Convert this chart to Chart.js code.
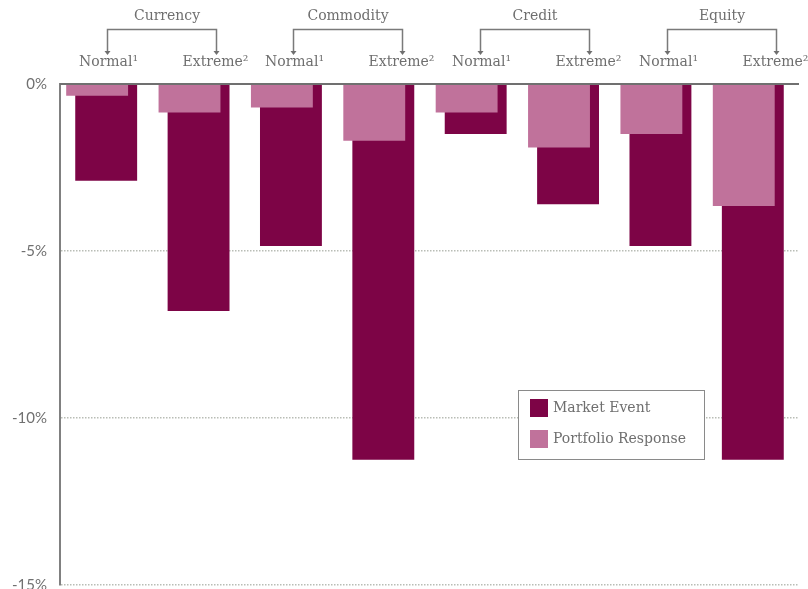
<!DOCTYPE html>
<html>
<head>
<meta charset="utf-8">
<script src="https://cdn.jsdelivr.net/npm/chart.js@4.4.1/dist/chart.umd.min.js"></script>
<style>
html,body{margin:0;padding:0;background:#fff;}
#wrap{width:808px;height:589px;position:relative;}
</style>
</head>
<body>
<div id="wrap"><canvas id="c" width="808" height="589"></canvas></div>
<script>
const groups = ['Currency', 'Commodity', 'Credit', 'Equity'];
const subLabels = ['Normal\u00B9', 'Extreme\u00B2'];
const categories = ['Currency Normal', 'Currency Extreme', 'Commodity Normal', 'Commodity Extreme', 'Credit Normal', 'Credit Extreme', 'Equity Normal', 'Equity Extreme'];
const marketEvent = [-2.9, -6.8, -4.85, -11.25, -1.5, -3.6, -4.85, -11.25];
const portfolioResponse = [-0.35, -0.85, -0.7, -1.7, -0.85, -1.9, -1.5, -3.65];
const yTicks = [0, -5, -10, -15];

const DARK = '#7d0446';
const PINK = '#c0729b';
const GREY = '#6f6f6f';
const SERIF = '"DejaVu Serif", serif';

const overlapShift = {
  id: 'overlapShift',
  beforeDatasetDraw(chart, args) {
    if (args.index === 1) {
      const w = chart.scales.x.getPixelForValue(1) - chart.scales.x.getPixelForValue(0);
      chart.ctx.save();
      chart.ctx.translate(-w * 0.098, 0);
    }
  },
  afterDatasetDraw(chart, args) {
    if (args.index === 1) chart.ctx.restore();
  }
};

const decorations = {
  id: 'decorations',
  afterDatasetsDraw(chart) {
    const ctx = chart.ctx;
    const area = chart.chartArea;
    const y = chart.scales.y;
    // zero line
    const y0 = y.getPixelForValue(0);
    ctx.save();
    ctx.strokeStyle = '#707070';
    ctx.lineWidth = 2;
    ctx.beginPath();
    ctx.moveTo(area.left, y0);
    ctx.lineTo(area.right, y0);
    ctx.stroke();

    // header brackets
    const step = (area.width + 8) / 8;
    ctx.fillStyle = GREY;
    ctx.strokeStyle = '#7a7a7a';
    ctx.lineWidth = 1.5;
    ctx.font = '14px ' + SERIF;
    ctx.textBaseline = 'middle';
    ctx.textAlign = 'center';
    groups.forEach((g, k) => {
      const xn = Math.round(area.left + step * (2 * k + 0.5)) + 0.5;
      const xe = xn + 109;
      const yb = 29.5, ya = 55;
      ctx.beginPath();
      ctx.moveTo(xn, ya - 3);
      ctx.lineTo(xn, yb);
      ctx.lineTo(xe, yb);
      ctx.lineTo(xe, ya - 3);
      ctx.stroke();
      [xn, xe].forEach(x => {
        ctx.beginPath();
        ctx.moveTo(x - 3, ya - 4);
        ctx.lineTo(x + 3, ya - 4);
        ctx.lineTo(x, ya);
        ctx.closePath();
        ctx.fill();
      });
      ctx.fillText(g, (xn + xe) / 2 + (k === 0 ? 5 : 0), 16);
      ctx.fillText(subLabels[0], xn + 1, 62);
      ctx.fillText(subLabels[1], xe - 1, 62);
    });

    // legend
    const lx = 518.5, ly = 390.5, lw = 186, lh = 69;
    ctx.fillStyle = '#fff';
    ctx.fillRect(lx, ly, lw, lh);
    ctx.strokeStyle = '#8a8a8a';
    ctx.lineWidth = 1;
    ctx.strokeRect(lx, ly, lw, lh);
    ctx.textAlign = 'left';
    chart.data.datasets.forEach((ds, i) => {
      const sy = 399 + i * 31;
      ctx.fillStyle = ds.backgroundColor;
      ctx.fillRect(530, sy, 18, 18);
      ctx.fillStyle = GREY;
      ctx.fillText(ds.label, 553, sy + 9.5);
    });
    ctx.restore();
  }
};

new Chart(document.getElementById('c'), {
  type: 'bar',
  data: {
    labels: categories,
    datasets: [
      { label: 'Market Event', data: marketEvent, backgroundColor: DARK, order: 1 },
      { label: 'Portfolio Response', data: portfolioResponse, backgroundColor: PINK, order: 0 }
    ]
  },
  options: {
    responsive: false,
    animation: false,
    devicePixelRatio: 1,
    layout: { padding: { top: 84, right: 9, bottom: 4, left: 0 } },
    datasets: { bar: { grouped: false, categoryPercentage: 1, barPercentage: 0.67 } },
    plugins: { legend: { display: false }, tooltip: { enabled: false } },
    scales: {
      x: { display: false },
      y: {
        min: -15, max: 0,
        afterFit(scale) { scale.width = 60; scale.paddingTop = 0; scale.paddingBottom = 0; },
        afterBuildTicks(scale) { scale.ticks = yTicks.map(v => ({ value: v })); },
        ticks: {
          padding: 13,
          color: '#707070',
          font: { family: 'Lato', size: 15 },
          callback: v => v + '%'
        },
        grid: {
          color: '#b9bdb6',
          lineWidth: 1.5,
          drawTicks: false
        },
        border: { display: true, color: '#808080', width: 2, dash: [1.5, 1.5] }
      }
    }
  },
  plugins: [overlapShift, decorations]
});
</script>
</body>
</html>
